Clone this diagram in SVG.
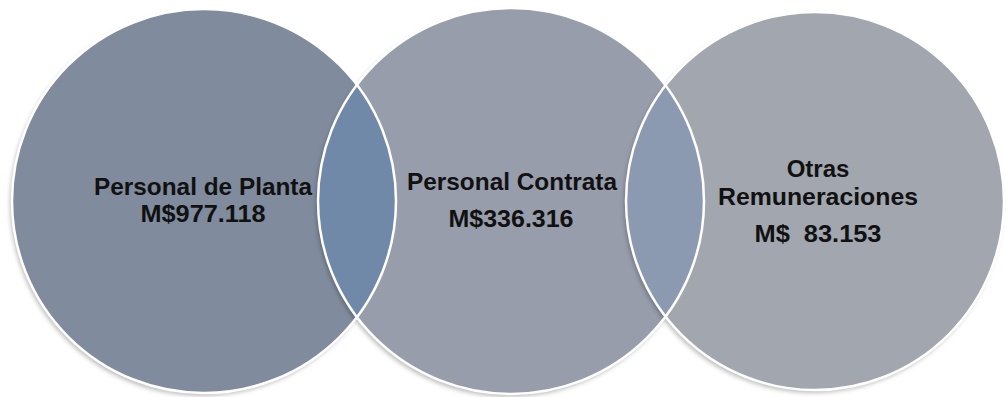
<svg xmlns="http://www.w3.org/2000/svg" width="1006" height="397" viewBox="0 0 1006 397">
  <style>
    .lbl { font-family: "Liberation Sans", Arial, sans-serif; font-weight: bold; font-size: 24px; fill: #111111; text-anchor: middle; }
    .edge { fill: none; stroke: #ffffff; stroke-width: 2.5; }
  </style>
  <defs>
    <filter id="shadow" x="-10%" y="-10%" width="120%" height="120%">
      <feDropShadow dx="-2" dy="3" stdDeviation="2" flood-color="#000000" flood-opacity="0.25"/>
    </filter>
    <clipPath id="clip1"><circle cx="204" cy="201" r="192"/></clipPath>
    <clipPath id="clip3"><circle cx="815" cy="201" r="189"/></clipPath>
  </defs>
  <rect width="1006" height="397" fill="#ffffff"/>

  <g id="node-planta">
    <circle cx="204" cy="201" r="192" fill="#808b9d" filter="url(#shadow)"/>
  </g>
  <g id="node-contrata">
    <circle cx="511" cy="201" r="193" fill="#979dab" filter="url(#shadow)"/>
  </g>
  <g id="node-otras">
    <circle cx="815" cy="201" r="189" fill="#a2a6af" filter="url(#shadow)"/>
  </g>

  <g id="overlaps">
    <circle cx="511" cy="201" r="193" fill="#7089a8" clip-path="url(#clip1)"/>
    <circle cx="511" cy="201" r="193" fill="#8c9ab1" clip-path="url(#clip3)"/>
  </g>

  <g id="outlines">
    <circle class="edge" cx="204" cy="201" r="192"/>
    <circle class="edge" cx="511" cy="201" r="193"/>
    <circle class="edge" cx="815" cy="201" r="189"/>
  </g>

  <g id="labels">
    <text class="lbl" x="203" y="195" textLength="218" lengthAdjust="spacingAndGlyphs">Personal de Planta</text>
    <text class="lbl" x="203" y="222" textLength="125" lengthAdjust="spacingAndGlyphs">M$977.118</text>
    <text class="lbl" x="512" y="190" textLength="210" lengthAdjust="spacingAndGlyphs">Personal Contrata</text>
    <text class="lbl" x="511" y="227" textLength="125" lengthAdjust="spacingAndGlyphs">M$336.316</text>
    <text class="lbl" x="818" y="177">Otras</text>
    <text class="lbl" x="818" y="205" textLength="200" lengthAdjust="spacingAndGlyphs">Remuneraciones</text>
    <text class="lbl" x="818" y="242" xml:space="preserve" textLength="127" lengthAdjust="spacingAndGlyphs">M$  83.153</text>
  </g>
</svg>
